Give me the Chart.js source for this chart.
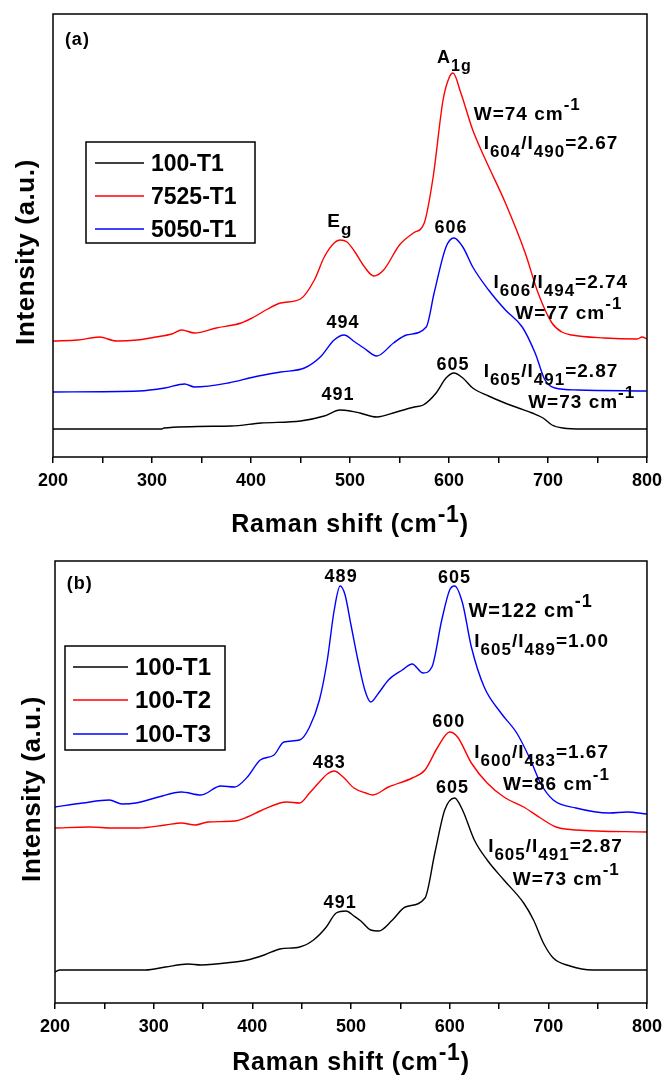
<!DOCTYPE html>
<html>
<head>
<meta charset="utf-8">
<script src="https://cdn.jsdelivr.net/npm/chart.js@4.4.1/dist/chart.umd.min.js"></script>
<style>
  html, body { margin: 0; padding: 0; background: #fff; }
  canvas { display: block; }
</style>
</head>
<body>
<canvas id="chartA" width="669" height="540"></canvas>
<canvas id="chartB" width="669" height="536"></canvas>
<script>
// ---- data (Raman shift in cm-1, intensity in a.u.) ----
const majorTicks = [200, 300, 400, 500, 600, 700, 800];

// panel (a)
const shiftA_100T1 = [200, 310, 312, 380, 410, 450, 474, 490, 500, 510, 527, 547, 565, 574, 587, 597, 605, 614, 624, 640, 654, 670, 684, 695, 704, 715, 735, 800];
const intA_100T1 = [28, 28, 29, 31, 34, 36, 41, 47, 46, 44, 40, 45, 50, 52, 64, 79, 84, 79, 69, 61, 55, 49, 44, 39, 32, 29, 28, 28];

const shiftA_7525T1 = [200, 225, 247, 264, 285, 304, 320, 330, 343, 365, 390, 403, 417, 430, 450, 464, 474, 484, 490, 497, 505, 514, 524, 534, 550, 564, 575, 584, 594, 600, 604, 612, 624, 637, 657, 677, 690, 704, 714, 724, 757, 790, 795, 800];
const intA_7525T1 = [116, 117, 120, 116, 117, 120, 123, 127, 124, 129, 134, 140, 148, 154, 158, 177, 200, 214, 217, 215, 205, 191, 181, 187, 212, 224, 234, 280, 357, 379, 384, 364, 327, 297, 254, 204, 164, 134, 125, 122, 119, 118, 120, 118];

const shiftA_5050T1 = [200, 287, 313, 333, 343, 377, 403, 430, 454, 470, 484, 494, 505, 514, 527, 544, 557, 577, 585, 597, 605, 614, 624, 640, 657, 674, 687, 697, 707, 730, 800];
const intA_5050T1 = [65, 66, 69, 73, 70, 74, 80, 85, 89, 100, 117, 122, 115, 109, 101, 114, 122, 130, 164, 210, 219, 210, 190, 167, 147, 130, 104, 77, 69, 67, 66];

// panel (b)
const shiftB_100T1 = [200, 205, 292, 312, 335, 348, 382, 395, 412, 428, 448, 462, 475, 485, 495, 503, 510, 520, 528, 542, 555, 575, 585, 595, 605, 613, 625, 638, 655, 675, 685, 695, 705, 722, 745, 800];
const intB_100T1 = [31, 33, 33, 36, 39, 38, 41, 43, 48, 54, 56, 63, 76, 90, 92, 87, 82, 73, 72, 83, 96, 105, 150, 193, 205, 193, 163, 143, 123, 100, 83, 60, 45, 37, 33, 33];

const shiftB_100T2 = [200, 235, 258, 285, 312, 328, 342, 355, 382, 395, 408, 428, 435, 448, 458, 468, 476, 483, 492, 503, 515, 522, 538, 562, 575, 588, 600, 608, 622, 638, 655, 675, 692, 708, 728, 800];
const intB_100T2 = [175, 176, 175, 175, 178, 180, 178, 181, 182, 186, 192, 200, 201, 200, 210, 221, 229, 232, 226, 215, 210, 208, 216, 225, 233, 256, 271, 266, 240, 220, 206, 196, 185, 176, 173, 171];

const shiftB_100T3 = [200, 228, 255, 268, 282, 305, 328, 348, 368, 382, 395, 408, 422, 432, 448, 458, 468, 476, 483, 489, 494, 500, 507, 514, 520, 528, 538, 552, 562, 573, 582, 592, 600, 605, 613, 622, 635, 652, 668, 682, 692, 705, 728, 762, 780, 800];
const intB_100T3 = [196, 200, 203, 199, 200, 206, 211, 208, 217, 216, 226, 243, 248, 261, 263, 276, 303, 343, 393, 417, 408, 378, 343, 313, 301, 310, 323, 333, 339, 330, 336, 383, 413, 417, 400, 356, 316, 290, 270, 243, 220, 203, 195, 190, 191, 189];

// ---- text labels placed in data coordinates ----
const notesA = [
  { x: 212, y: 412, size: 18, parts: [['(a)', 'n']] },
  { x: 588, y: 394, size: 18, parts: [['A', 'n'], ['1g', 'sub']] },
  { x: 625, y: 337, parts: [['W=74 cm', 'n'], ['-1', 'sup']] },
  { x: 635, y: 308, parts: [['I', 'n'], ['604', 'sub'], ['/I', 'n'], ['490', 'sub'], ['=2.67', 'n']] },
  { x: 602, y: 224, size: 18, align: 'center', parts: [['606', 'n']] },
  { x: 645, y: 169, parts: [['I', 'n'], ['606', 'sub'], ['/I', 'n'], ['494', 'sub'], ['=2.74', 'n']] },
  { x: 667, y: 138, parts: [['W=77 cm', 'n'], ['-1', 'sup']] },
  { x: 604, y: 87, size: 18, align: 'center', parts: [['605', 'n']] },
  { x: 635, y: 80, parts: [['I', 'n'], ['605', 'sub'], ['/I', 'n'], ['491', 'sub'], ['=2.87', 'n']] },
  { x: 680, y: 49, parts: [['W=73 cm', 'n'], ['-1', 'sup']] },
  { x: 477, y: 230, parts: [['E', 'n'], ['g', 'sub']] },
  { x: 493, y: 129, size: 18, align: 'center', parts: [['494', 'n']] },
  { x: 488, y: 57, size: 18, align: 'center', parts: [['491', 'n']] }
];

const notesB = [
  { x: 212, y: 414, size: 18, parts: [['(b)', 'n']] },
  { x: 490, y: 421, size: 18, align: 'center', parts: [['489', 'n']] },
  { x: 605, y: 420, size: 18, align: 'center', parts: [['605', 'n']] },
  { x: 619, y: 386, size: 20, parts: [['W=122 cm', 'n'], ['-1', 'sup']] },
  { x: 625, y: 356, parts: [['I', 'n'], ['605', 'sub'], ['/I', 'n'], ['489', 'sub'], ['=1.00', 'n']] },
  { x: 599, y: 276, size: 18, align: 'center', parts: [['600', 'n']] },
  { x: 478, y: 235, size: 18, align: 'center', parts: [['483', 'n']] },
  { x: 625, y: 245, parts: [['I', 'n'], ['600', 'sub'], ['/I', 'n'], ['483', 'sub'], ['=1.67', 'n']] },
  { x: 654, y: 213, parts: [['W=86 cm', 'n'], ['-1', 'sup']] },
  { x: 603, y: 210, size: 18, align: 'center', parts: [['605', 'n']] },
  { x: 639, y: 151, parts: [['I', 'n'], ['605', 'sub'], ['/I', 'n'], ['491', 'sub'], ['=2.87', 'n']] },
  { x: 664, y: 118, parts: [['W=73 cm', 'n'], ['-1', 'sup']] },
  { x: 489, y: 95, size: 18, align: 'center', parts: [['491', 'n']] }
];

const xTitleParts = [['Raman shift (cm', 'n'], ['-1', 'sup'], [')', 'n']];
const yTitleParts = [['Intensity (a.u.)', 'n']];
const FONT = '"Liberation Sans", Arial, sans-serif';

Chart.defaults.font.family = FONT;
Chart.defaults.color = '#000';

function toPoints(xs, ys) {
  return xs.map((x, i) => ({ x: x, y: ys[i] }));
}

// draws text made of normal / subscript / superscript pieces
function drawRich(ctx, parts, x, y, align, size, spacing) {
  const fontFor = k => 'bold ' + (k === 'n' ? size : size - 2) + 'px ' + FONT;
  const dy = k => (k === 'sub' ? 8 : k === 'sup' ? -10 : 0);
  ctx.letterSpacing = (spacing == null ? 1 : spacing) + 'px';
  let w = 0;
  parts.forEach(([t, k]) => { ctx.font = fontFor(k); w += ctx.measureText(t).width; });
  let cx = align === 'center' ? x - w / 2 : x;
  ctx.textAlign = 'left';
  ctx.textBaseline = 'alphabetic';
  parts.forEach(([t, k]) => {
    ctx.font = fontFor(k);
    ctx.fillText(t, cx, y + dy(k));
    cx += ctx.measureText(t).width;
  });
  ctx.letterSpacing = '0px';
}

const decorPlugin = {
  id: 'decor',
  afterDraw(chart, args, o) {
    const { ctx, chartArea: ca, scales: { x, y } } = chart;
    ctx.save();
    ctx.strokeStyle = '#000';
    ctx.lineWidth = 1.5;
    ctx.strokeRect(ca.left, ca.top, ca.right - ca.left, ca.bottom - ca.top);

    ctx.fillStyle = '#000';
    o.notes.forEach(n => {
      drawRich(ctx, n.parts, x.getPixelForValue(n.x), y.getPixelForValue(n.y), n.align || 'left', n.size || 19);
    });
    drawRich(ctx, xTitleParts, (ca.left + ca.right) / 2, o.xTitleY, 'center', 25, 0.8);

    // vertical axis title
    ctx.save();
    ctx.translate(o.yTitle[0], o.yTitle[1]);
    ctx.rotate(-Math.PI / 2);
    drawRich(ctx, yTitleParts, 0, 0, 'center', 26, 0.6);
    ctx.restore();

    // legend box
    const lg = o.legend;
    ctx.fillStyle = '#fff';
    ctx.fillRect(lg.x, lg.y, lg.w, lg.h);
    ctx.lineWidth = 1.5;
    ctx.strokeStyle = '#000';
    ctx.strokeRect(lg.x, lg.y, lg.w, lg.h);
    chart.data.datasets.forEach((ds, i) => {
      const ry = lg.rows[i];
      ctx.strokeStyle = ds.borderColor;
      ctx.lineWidth = 1.6;
      ctx.beginPath();
      ctx.moveTo(lg.line[0], ry);
      ctx.lineTo(lg.line[1], ry);
      ctx.stroke();
      ctx.fillStyle = '#000';
      ctx.font = 'bold ' + lg.size + 'px ' + FONT;
      ctx.textAlign = 'left';
      ctx.textBaseline = 'alphabetic';
      ctx.fillText(ds.label, lg.textX, ry + 8);
    });
    ctx.restore();
  }
};

function makePanel(id, series, g) {
  const colors = ['#000000', '#ff0000', '#0000ff'];
  new Chart(document.getElementById(id), {
    type: 'line',
    data: {
      datasets: series.map((s, i) => ({
        label: s.label,
        data: toPoints(s.x, s.y),
        borderColor: colors[i],
        borderWidth: 1.4,
        pointRadius: 0,
        fill: false,
        cubicInterpolationMode: 'monotone'
      }))
    },
    options: {
      responsive: false,
      animation: false,
      events: [],
      layout: { padding: { top: g.top, right: g.right, left: 0, bottom: 0 } },
      plugins: {
        legend: { display: false },
        tooltip: { enabled: false },
        decor: { notes: g.notes, legend: g.legend, xTitleY: g.xTitleY, yTitle: g.yTitle }
      },
      scales: {
        x: {
          type: 'linear',
          min: 200,
          max: 800,
          afterFit: s => { s.height = g.xHeight; },
          border: { display: false },
          grid: { drawOnChartArea: false, drawTicks: true, tickLength: 6, color: '#000', lineWidth: 1.5 },
          ticks: {
            stepSize: 50,
            autoSkip: false,
            maxRotation: 0,
            padding: 7,
            font: { size: 18, weight: 'bold' },
            callback: v => (majorTicks.includes(v) ? String(v) : '')
          }
        },
        y: {
          min: 0,
          max: g.yMax,
          afterFit: s => { s.width = g.yWidth; },
          border: { display: false },
          grid: { display: false },
          ticks: { display: false },
          title: { display: false }
        }
      }
    },
    plugins: [decorPlugin]
  });
}

makePanel('chartA', [
  { label: '100-T1', x: shiftA_100T1, y: intA_100T1 },
  { label: '7525-T1', x: shiftA_7525T1, y: intA_7525T1 },
  { label: '5050-T1', x: shiftA_5050T1, y: intA_5050T1 }
], {
  top: 14, right: 16, yWidth: 53, xHeight: 83, yMax: 443, xTitleY: 532, yTitle: [34, 252],
  notes: notesA,
  legend: { x: 86, y: 142, w: 169, h: 101, rows: [163, 196, 229], line: [95, 144], textX: 151, size: 23 }
});

makePanel('chartB', [
  { label: '100-T1', x: shiftB_100T1, y: intB_100T1 },
  { label: '100-T2', x: shiftB_100T2, y: intB_100T2 },
  { label: '100-T3', x: shiftB_100T3, y: intB_100T3 }
], {
  top: 21, right: 14, yWidth: 55, xHeight: 73, yMax: 442, xTitleY: 530, yTitle: [40, 249],
  notes: notesB,
  legend: { x: 65, y: 106, w: 160, h: 104, rows: [127, 160, 194], line: [73, 128], textX: 135, size: 24 }
});
</script>
</body>
</html>
